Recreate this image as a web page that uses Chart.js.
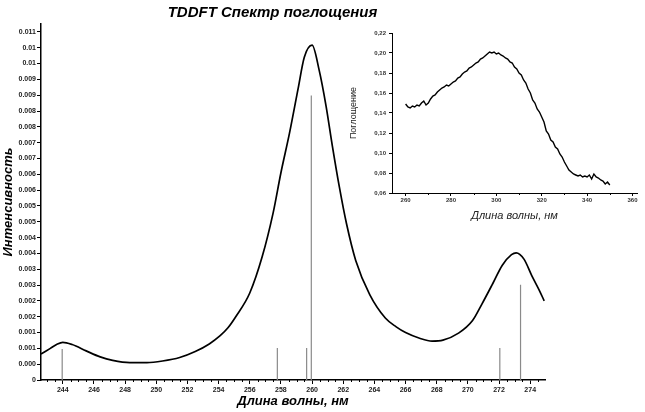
<!DOCTYPE html>
<html>
<head>
<meta charset="utf-8">
<script src="https://cdn.jsdelivr.net/npm/chart.js@4.4.0/dist/chart.umd.min.js"></script>
<style>
html,body{margin:0;padding:0;background:#fff;}
#wrap{position:relative;width:645px;height:412px;overflow:hidden;}
#mainChart{position:absolute;left:0;top:0;}
#insetChart{position:absolute;left:345px;top:25px;}
</style>
</head>
<body>
<div id="wrap">
<canvas id="mainChart" width="645" height="412"></canvas>
<canvas id="insetChart" width="300" height="200"></canvas>
</div>
<script>

/* main spectrum */

const mainWavelength = [242.6, 243.2, 243.6, 244.0, 244.6, 245.5, 246.4, 247.2, 248.3, 249.4, 250.4, 251.5, 252.5, 253.4, 254.1, 254.6, 255.1, 256.0, 256.8, 257.5, 258.0, 258.55, 259.1, 259.5, 260.0, 260.45, 260.9, 261.3, 261.75, 262.2, 262.8, 263.7, 264.7, 265.4, 266.0, 266.9, 267.7, 268.4, 269.4, 270.3, 270.9, 271.6, 272.2, 272.8, 273.1, 273.6, 274.1, 274.6, 274.9];
const mainIntensity = [0.00082, 0.00100, 0.00112, 0.00119, 0.00112, 0.00092, 0.00073, 0.00062, 0.00055, 0.00055, 0.00060, 0.00071, 0.00090, 0.00114, 0.00140, 0.00165, 0.00200, 0.00275, 0.00390, 0.00528, 0.00655, 0.00780, 0.00920, 0.01020, 0.01058, 0.00980, 0.00865, 0.00740, 0.00610, 0.00496, 0.00378, 0.00270, 0.00196, 0.00168, 0.00150, 0.00132, 0.00123, 0.00126, 0.00148, 0.00188, 0.00240, 0.00305, 0.00362, 0.00396, 0.00402, 0.00382, 0.00330, 0.00282, 0.00250];

/* TDDFT transitions */

const stickWavelength = [243.96, 257.77, 259.65, 259.95, 272.05, 273.38];
const stickIntensity = [0.00098, 0.00101, 0.00101, 0.00899, 0.00101, 0.00301];

/* main axes */

const xTickValues = [244, 246, 248, 250, 252, 254, 256, 258, 260, 262, 264, 266, 268, 270, 272, 274];
const xTickLabels = ["244", "246", "248", "250", "252", "254", "256", "258", "260", "262", "264", "266", "268", "270", "272", "274"];
const yTickValues = [0, 0.0005, 0.001, 0.0015, 0.002, 0.0025, 0.003, 0.0035, 0.004, 0.0045, 0.005, 0.0055, 0.006, 0.0065, 0.007, 0.0075, 0.008, 0.0085, 0.009, 0.0095, 0.01, 0.0105, 0.011];
const yTickLabels = ["0", "0.000", "0.001", "0.001", "0.002", "0.002", "0.003", "0.003", "0.004", "0.004", "0.005", "0.005", "0.006", "0.006", "0.007", "0.007", "0.008", "0.008", "0.009", "0.009", "0.01", "0.01", "0.011"];

/* inset: experimental absorbance */

const insetWavelength = [260, 261, 262, 263, 264, 265, 266, 267, 268, 269, 270, 271, 272, 273, 274, 275, 276, 277, 278, 279, 280, 281, 282, 283, 284, 285, 286, 287, 288, 289, 290, 291, 292, 293, 294, 295, 296, 297, 298, 299, 300, 301, 302, 303, 304, 305, 306, 307, 308, 309, 310, 311, 312, 313, 314, 315, 316, 317, 318, 319, 320, 321, 322, 323, 324, 325, 326, 327, 328, 329, 330, 331, 332, 333, 334, 335, 336, 337, 338, 339, 340, 341, 342, 343, 344, 345, 346, 347, 348, 349, 350];
const insetAbsorbance = [0.149, 0.146, 0.145, 0.147, 0.146, 0.148, 0.147, 0.150, 0.152, 0.148, 0.150, 0.154, 0.157, 0.158, 0.161, 0.163, 0.165, 0.166, 0.168, 0.167, 0.169, 0.171, 0.172, 0.175, 0.176, 0.179, 0.181, 0.182, 0.185, 0.186, 0.188, 0.190, 0.191, 0.194, 0.195, 0.197, 0.199, 0.201, 0.200, 0.201, 0.199, 0.200, 0.198, 0.197, 0.195, 0.194, 0.191, 0.190, 0.186, 0.184, 0.180, 0.178, 0.173, 0.170, 0.164, 0.160, 0.153, 0.150, 0.144, 0.141, 0.136, 0.131, 0.122, 0.119, 0.113, 0.111, 0.106, 0.104, 0.099, 0.096, 0.091, 0.087, 0.083, 0.081, 0.079, 0.078, 0.077, 0.078, 0.076, 0.077, 0.076, 0.078, 0.074, 0.079, 0.076, 0.075, 0.073, 0.072, 0.069, 0.071, 0.068];

const insetXTicks = [260, 280, 300, 320, 340, 360];
const insetXLabels = ["260", "280", "300", "320", "340", "360"];
const insetYTicks = [0.06, 0.08, 0.10, 0.12, 0.14, 0.16, 0.18, 0.20, 0.22];
const insetYLabels = ["0,06", "0,08", "0,10", "0,12", "0,14", "0,16", "0,18", "0,20", "0,22"];

Chart.defaults.font.family = "'Liberation Sans', Arial, sans-serif";

/* minor ticks on the x axis */

const minorTicks = {
id: "minorTicks",
afterDraw(chart, args, opts){
const s = chart.scales.x;
const ctx = chart.ctx;
ctx.save();
ctx.strokeStyle = "#000";
ctx.lineWidth = 1;
opts.values.forEach(v => {
let px = Math.round(s.getPixelForValue(v)) + 0.5;
ctx.beginPath();
ctx.moveTo(px, s.top);
ctx.lineTo(px, s.top + opts.length);
ctx.stroke();
});
ctx.restore();
}
};

let mainMinor = [];
for(let v = 243; v <= 274.5; v += 0.5){
if(v % 2 !== 0) mainMinor.push(v);
}

let insetMinor = [270, 290, 310, 330, 350];

/* main chart */

let curve = mainWavelength.map((x, i) => ({x: x, y: mainIntensity[i]}));

let sticks = [];
stickWavelength.forEach((x, i) => {
sticks.push({x: x, y: 0});
sticks.push({x: x, y: stickIntensity[i]});
sticks.push({x: x, y: null});
});

new Chart(document.getElementById("mainChart"), {
type: "line",
data: {
datasets: [{
data: curve,
borderColor: "#000",
borderWidth: 1.7,
pointRadius: 0,
cubicInterpolationMode: "monotone"
},{
data: sticks,
borderColor: "#8a8a8a",
borderWidth: 1.2,
pointRadius: 0,
spanGaps: false
}]
},
options: {
responsive: false,
animation: false,
layout: {padding: {left: 0, right: 100, top: 0, bottom: 0}},
plugins: {
legend: {display: false},
tooltip: {enabled: false},
title: {
display: true,
text: "TDDFT Спектр поглощения",
color: "#000",
font: {size: 15, weight: "bold", style: "italic"},
padding: {top: 4, bottom: 2}
},
minorTicks: {values: mainMinor, length: 2}
},
scales: {
x: {
type: "linear",
min: 242.6,
max: 274.95,
afterBuildTicks: s => { s.ticks = xTickValues.map(v => ({value: v})); },
afterFit: s => { s.height = 32; },
ticks: {
callback: (v, i) => xTickLabels[i],
font: {size: 7, weight: "bold"},
color: "#222",
padding: 2,
maxRotation: 0,
autoSkip: false
},
grid: {drawOnChartArea: false, color: "#000", tickLength: 4},
border: {color: "#000", width: 1.5},
title: {
display: true,
text: "Длина волны, нм",
color: "#000",
font: {size: 13, weight: "bold", style: "italic"},
padding: {top: 0, bottom: 3}
}
},
y: {
min: 0,
max: 0.01125,
afterBuildTicks: s => { s.ticks = yTickValues.map(v => ({value: v})); },
afterFit: s => { s.width = 41; },
ticks: {
callback: (v, i) => yTickLabels[i],
font: {size: 7, weight: "bold"},
color: "#222",
padding: 1,
autoSkip: false
},
grid: {drawOnChartArea: false, color: "#000", tickLength: 4},
border: {color: "#000", width: 1.5},
title: {
display: true,
text: "Интенсивность",
color: "#000",
font: {size: 13, weight: "bold", style: "italic"},
padding: {top: 1, bottom: 0}
}
}
}
},
plugins: [minorTicks]
});

/* inset chart */

let insetData = insetWavelength.map((x, i) => ({x: x, y: insetAbsorbance[i]}));

new Chart(document.getElementById("insetChart"), {
type: "line",
data: {
datasets: [{
data: insetData,
borderColor: "#000",
borderWidth: 1.4,
pointRadius: 0,
tension: 0
}]
},
options: {
responsive: false,
animation: false,
layout: {padding: {left: 0, right: 8, top: 8, bottom: 0}},
plugins: {
legend: {display: false},
tooltip: {enabled: false},
minorTicks: {values: insetMinor, length: 2}
},
scales: {
x: {
type: "linear",
min: 254,
max: 362,
afterBuildTicks: s => { s.ticks = insetXTicks.map(v => ({value: v})); },
afterFit: s => { s.height = 32; },
ticks: {
callback: (v, i) => insetXLabels[i],
font: {size: 6, weight: "bold"},
color: "#333",
padding: 1,
maxRotation: 0,
autoSkip: false
},
grid: {drawOnChartArea: false, color: "#000", tickLength: 3},
border: {color: "#000", width: 1},
title: {
display: true,
text: "Длина волны, нм",
color: "#222",
font: {size: 11, style: "italic"},
padding: {top: 0, bottom: 2}
}
},
y: {
min: 0.06,
max: 0.22,
afterBuildTicks: s => { s.ticks = insetYTicks.map(v => ({value: v})); },
afterFit: s => { s.width = 47; },
ticks: {
callback: (v, i) => insetYLabels[i],
font: {size: 6, weight: "bold"},
color: "#333",
padding: 3,
autoSkip: false
},
grid: {drawOnChartArea: false, color: "#000", tickLength: 3},
border: {color: "#000", width: 1},
title: {
display: true,
text: "Поглощение",
color: "#222",
font: {size: 9},
padding: {top: 3, bottom: 0}
}
}
}
},
plugins: [minorTicks]
});

</script>
</body>
</html>
